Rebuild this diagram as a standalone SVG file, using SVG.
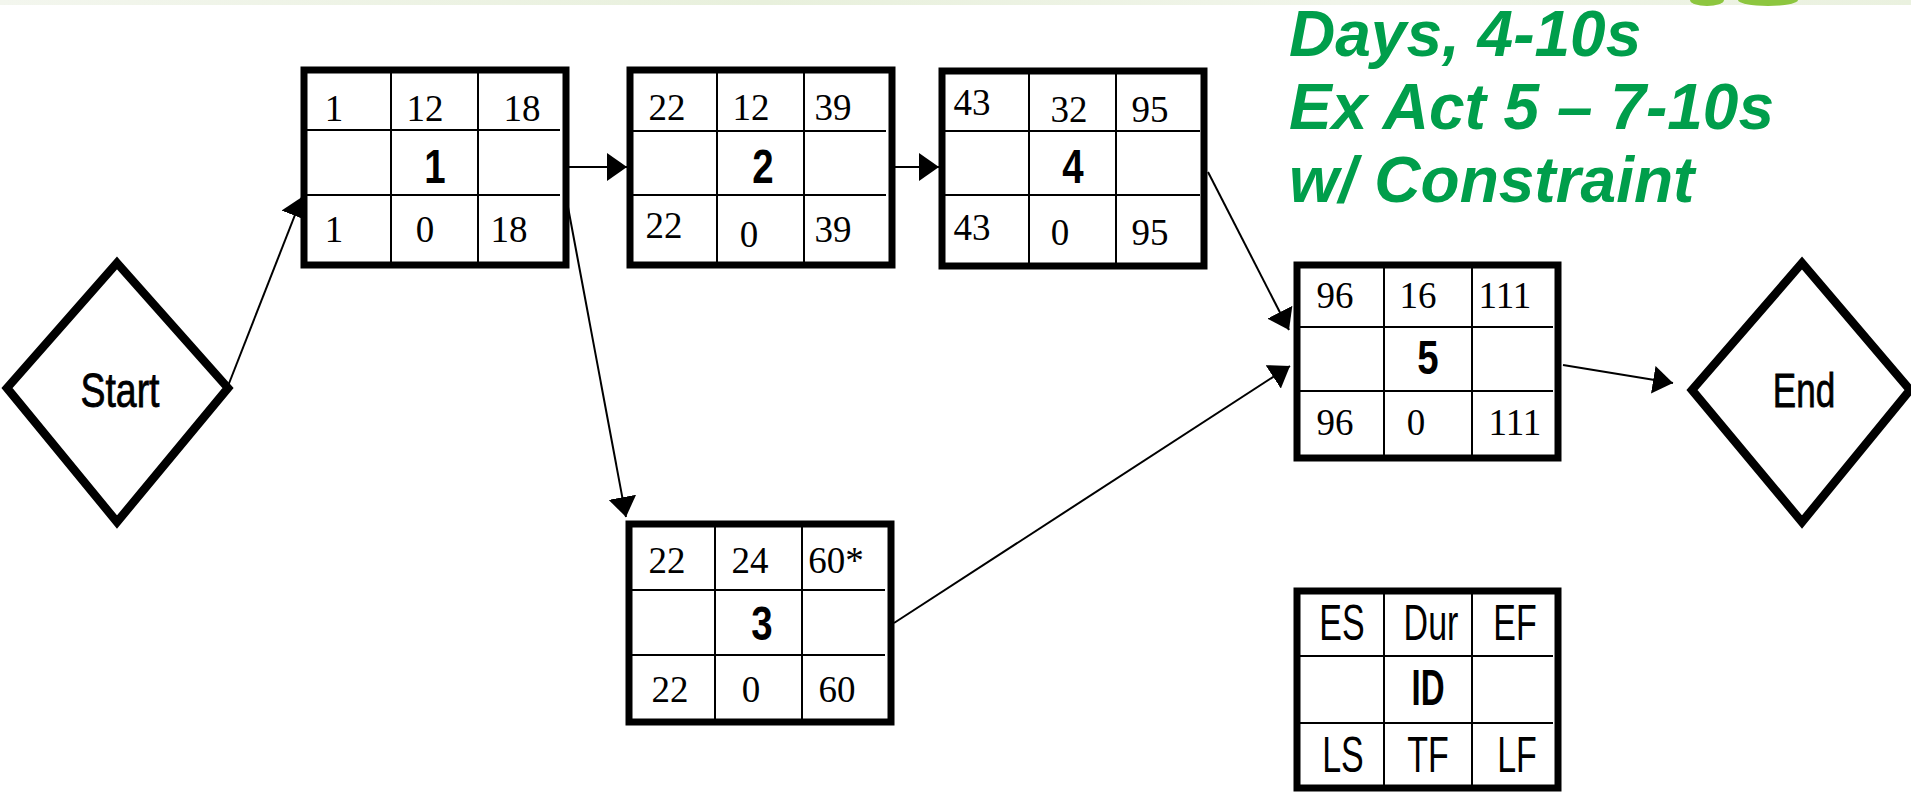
<svg xmlns="http://www.w3.org/2000/svg" width="1911" height="799" viewBox="0 0 1911 799">
<style>
.frame{fill:#fff;stroke:#000;stroke-width:7}
.grid{stroke:#000;stroke-width:2;fill:none}
.num{font-family:"Liberation Serif","Times New Roman",serif;font-size:37px;fill:#000;text-anchor:middle}
.id{font-family:"Liberation Sans",Arial,sans-serif;font-size:48px;font-weight:bold;fill:#000;text-anchor:middle}
.lbl{font-family:"Liberation Sans",Arial,sans-serif;font-size:48px;fill:#000;stroke:#000;stroke-width:0.8;text-anchor:middle}
.leg{font-family:"Liberation Sans",Arial,sans-serif;font-size:50px;fill:#000;text-anchor:middle}
.diamond{fill:#fff;stroke:#000;stroke-width:8.5;stroke-linejoin:miter}
.conn{stroke:#000;stroke-width:2;fill:none;marker-end:url(#arrow)}
.title{font-family:"Liberation Sans",Arial,sans-serif;font-size:64px;font-weight:bold;font-style:italic;fill:#009E4B}
</style>
<defs>
<marker id="arrow" viewBox="0 0 20 28" refX="20" refY="14" markerWidth="20" markerHeight="28" orient="auto" markerUnits="userSpaceOnUse">
<path d="M0,0 L20,14 L0,28 z" fill="#000"/>
</marker>
<linearGradient id="band" x1="0" y1="0" x2="1" y2="0">
<stop offset="0" stop-color="#f3f6ee"/>
<stop offset="0.4" stop-color="#e8f0dc"/>
<stop offset="0.7" stop-color="#f1f5ea"/>
<stop offset="1" stop-color="#eaf1df"/>
</linearGradient>
</defs>
<rect x="0" y="0" width="1911" height="799" fill="#fff"/>
<g id="background">
<rect x="0" y="0" width="1911" height="5" fill="url(#band)"/>
<ellipse cx="1707" cy="0" rx="17" ry="6" fill="#8dc63f"/>
<ellipse cx="1768" cy="0" rx="30" ry="6" fill="#8dc63f"/>
</g>

<g id="title">
<text class="title" x="1289" y="56">Days, 4-10s</text>
<text class="title" x="1289" y="129">Ex Act 5 – 7-10s</text>
<text class="title" x="1289" y="202">w/ Constraint</text>
</g>

<g id="connectors">
<line class="conn" x1="228" y1="386" x2="302" y2="197"/>
<line class="conn" x1="568" y1="167" x2="627" y2="167"/>
<line class="conn" x1="893" y1="167" x2="939" y2="167"/>
<line class="conn" x1="568" y1="207" x2="626" y2="517"/>
<line class="conn" x1="1208" y1="172" x2="1289" y2="330"/>
<line class="conn" x1="894" y1="623" x2="1290" y2="366"/>
<line class="conn" x1="1563" y1="365" x2="1673" y2="383"/>
</g>

<g id="start">
<polygon class="diamond" points="117,263 228,388 117,522 7,388"/>
<text class="lbl" transform="translate(120,407) scale(0.78,1)">Start</text>
</g>

<g id="end">
<polygon class="diamond" points="1802,263 1910,390 1802,522 1692,390"/>
<text class="lbl" transform="translate(1804,407) scale(0.73,1)">End</text>
</g>

<g id="act1">
<rect class="frame" x="304" y="70" width="262" height="195"/>
<path class="grid" d="M391,70 V265 M478,70 V265 M307,130 H560 M307,195 H560"/>
<text class="num" x="334" y="121">1</text>
<text class="num" x="425" y="121">12</text>
<text class="num" x="522" y="121">18</text>
<text class="id" transform="translate(435,183) scale(0.8,1)">1</text>
<text class="num" x="334" y="242">1</text>
<text class="num" x="425" y="242">0</text>
<text class="num" x="509" y="242">18</text>
</g>

<g id="act2">
<rect class="frame" x="630" y="70" width="262" height="195"/>
<path class="grid" d="M717,70 V265 M804,70 V265 M633,131 H886 M633,195 H886"/>
<text class="num" x="667" y="120">22</text>
<text class="num" x="751" y="120">12</text>
<text class="num" x="833" y="120">39</text>
<text class="id" transform="translate(763,183) scale(0.8,1)">2</text>
<text class="num" x="664" y="238">22</text>
<text class="num" x="749" y="247">0</text>
<text class="num" x="833" y="242">39</text>
</g>

<g id="act4">
<rect class="frame" x="942" y="71" width="262" height="195"/>
<path class="grid" d="M1029,71 V266 M1116,71 V266 M945,131 H1200 M945,195 H1200"/>
<text class="num" x="972" y="115">43</text>
<text class="num" x="1069" y="122">32</text>
<text class="num" x="1150" y="122">95</text>
<text class="id" transform="translate(1073,183) scale(0.8,1)">4</text>
<text class="num" x="972" y="240">43</text>
<text class="num" x="1060" y="245">0</text>
<text class="num" x="1150" y="245">95</text>
</g>

<g id="act5">
<rect class="frame" x="1297" y="265" width="261" height="193"/>
<path class="grid" d="M1384,265 V458 M1472,265 V458 M1300,327 H1553 M1300,391 H1553"/>
<text class="num" x="1335" y="308">96</text>
<text class="num" x="1418" y="308">16</text>
<text class="num" x="1505" y="308">111</text>
<text class="id" transform="translate(1428,374) scale(0.8,1)">5</text>
<text class="num" x="1335" y="435">96</text>
<text class="num" x="1416" y="435">0</text>
<text class="num" x="1515" y="435">111</text>
</g>

<g id="act3">
<rect class="frame" x="629" y="524" width="262" height="198"/>
<path class="grid" d="M715,524 V722 M802,524 V722 M632,590 H885 M632,655 H885"/>
<text class="num" x="667" y="573">22</text>
<text class="num" x="750" y="573">24</text>
<text class="num" x="836" y="573">60*</text>
<text class="id" transform="translate(762,640) scale(0.8,1)">3</text>
<text class="num" x="670" y="702">22</text>
<text class="num" x="751" y="702">0</text>
<text class="num" x="837" y="702">60</text>
</g>

<g id="legend">
<rect class="frame" x="1297" y="591" width="261" height="197"/>
<path class="grid" d="M1384,591 V788 M1472,591 V788 M1300,656 H1553 M1300,723 H1553"/>
<text class="leg" transform="translate(1342,640) scale(0.68,1)">ES</text>
<text class="leg" transform="translate(1431,640) scale(0.68,1)">Dur</text>
<text class="leg" transform="translate(1515,640) scale(0.68,1)">EF</text>
<text class="leg" font-weight="bold" transform="translate(1428,705) scale(0.66,1)">ID</text>
<text class="leg" transform="translate(1343,772) scale(0.68,1)">LS</text>
<text class="leg" transform="translate(1428,772) scale(0.68,1)">TF</text>
<text class="leg" transform="translate(1517,772) scale(0.68,1)">LF</text>
</g>
</svg>
